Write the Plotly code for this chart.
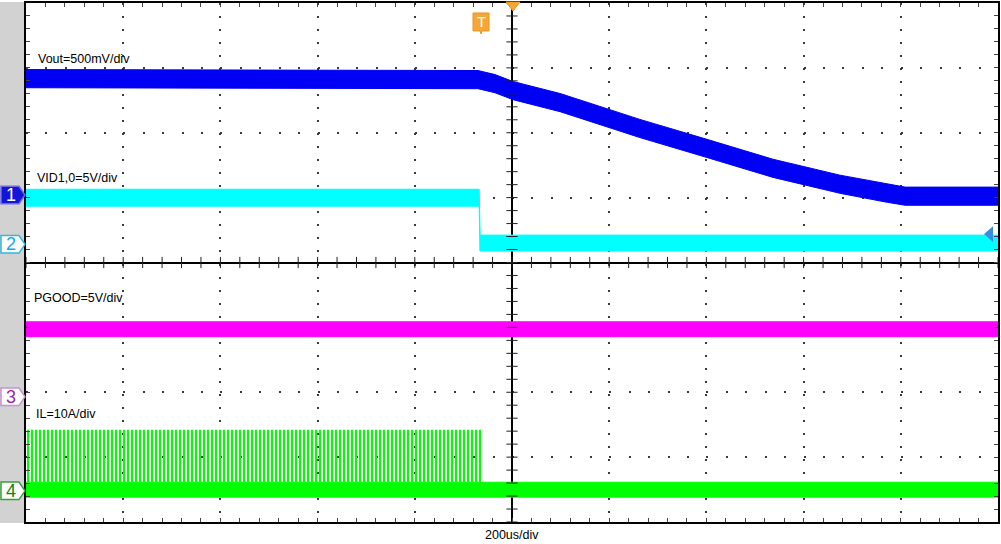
import numpy as np
import plotly.graph_objects as go

# ---------------- data (time in us, amplitude in screen divisions) ----------------
vout_t = [-1000, -70, -35, 2, 99, 263, 401, 537, 675, 772, 809, 1000]
vout_c = [2.834, 2.819, 2.757, 2.650, 2.465, 2.066, 1.759, 1.452, 1.206, 1.068, 1.022, 1.022]
vout_hw = 0.14

vid_t = [-1000, -67.5, -65.5, 1000]
vid_hi = [1.129, 1.129, 0.422, 0.422]
vid_lo_t = [-1000, -67.5, -66.0, 1000]
vid_lo = [0.868, 0.868, 0.177, 0.177]

pg_t = [-1000, 1000]
pg_hi = [-0.914, -0.914]
pg_lo = [-1.144, -1.144]

il_t = [-1000, 1000]
il_hi = [-3.387, -3.387]
il_lo = [-3.617, -3.617]
il_spike_t = [-1000, -63]
il_spike_top = -2.578

labels = ["Vout=500mV/div", "VID1,0=5V/div", "PGOOD=5V/div", "IL=10A/div"]
label_px = [(36, 57), (35, 177), (32, 297), (34, 414)]
ch_names = ["1", "2", "3", "4"]
ch_levels = [1.04, 0.28, -2.07, -3.52]
ch_fill = ["#1414d8", "white", "white", "white"]
ch_line = ["#6a6ae8", "#30b8e0", "#c890d8", "#3aa03a"]
ch_text = ["white", "#12a6e6", "#9a2aa8", "#0a8a0a"]
x_label = "200us/div"

# ---------------- geometry ----------------
W, H = 1001, 544
ML, MR, MT, MB = 26, 3, 1, 22
PW, PH = W - ML - MR, H - MT - MB


def px(x):
    return (x - ML) / PW


def py(y):
    return (MT + PH - y) / PH


fig = go.Figure()


def band(t, hi, lo, color, t_lo=None):
    t_lo = t if t_lo is None else t_lo
    xs = list(t) + list(t_lo)[::-1]
    ys = list(hi) + list(lo)[::-1]
    fig.add_trace(go.Scatter(x=xs, y=ys, mode="lines", fill="toself",
                             fillcolor=color, line=dict(color=color, width=1),
                             hoverinfo="skip", showlegend=False))


# IL spikes (hatched region)
fig.add_trace(go.Scatter(
    x=[il_spike_t[0], il_spike_t[1], il_spike_t[1], il_spike_t[0]],
    y=[il_hi[0], il_hi[0], il_spike_top, il_spike_top],
    mode="lines", fill="toself", line=dict(width=0, color="rgba(0,0,0,0)"),
    fillcolor="rgba(0,0,0,0)",
    fillpattern=dict(shape="|", size=4, solidity=0.5, fgcolor="#00ff00",
                     fgopacity=1, bgcolor="rgba(0,0,0,0)"),
    hoverinfo="skip", showlegend=False))

band(il_t, il_hi, il_lo, "#00ff00")
band(pg_t, pg_hi, pg_lo, "#ff00ff")
band(vid_t, vid_hi, vid_lo, "#00ffff", t_lo=vid_lo_t)
vc = np.array(vout_c)
band(vout_t, vc + vout_hw, vc - vout_hw, "#0000f5")

# crosshair ticks
minor_y = np.arange(-4, 4.001, 0.2)
minor_x = np.arange(-1000, 1000.1, 40)
fig.add_trace(go.Scatter(x=np.zeros_like(minor_y), y=minor_y, mode="markers",
                         marker=dict(symbol="line-ew", size=8,
                                     line=dict(width=1, color="#222")),
                         hoverinfo="skip", showlegend=False))
fig.add_trace(go.Scatter(x=minor_x, y=np.zeros_like(minor_x), mode="markers",
                         marker=dict(symbol="line-ns", size=8,
                                     line=dict(width=1, color="#222")),
                         hoverinfo="skip", showlegend=False))

shapes = []
annotations = []

# gray left strip
shapes.append(dict(type="rect", xref="paper", yref="paper", x0=px(0), x1=px(ML),
                   y0=py(523), y1=py(0), fillcolor="#d2d2d2", line=dict(width=0),
                   layer="below"))

# channel markers
h = 0.135
x0, x1, x2 = px(1), px(19), px(25)
for name, lvl, fc, lc, tc in zip(ch_names, ch_levels, ch_fill, ch_line, ch_text):
    path = (f"M {x0},{lvl + h} L {x1},{lvl + h} L {x2},{lvl} "
            f"L {x1},{lvl - h} L {x0},{lvl - h} Z")
    shapes.append(dict(type="path", xref="paper", yref="y", path=path,
                       fillcolor=fc, line=dict(color=lc, width=1.5), layer="above"))
    annotations.append(dict(x=px(10.5), y=lvl, xref="paper", yref="y", text=name,
                            showarrow=False, xanchor="center", yanchor="middle",
                            font=dict(family="Liberation Sans", size=18, color=tc)))

# trigger marker "T"
tpath = (f"M {px(473)},{py(11)} L {px(489)},{py(11)} L {px(489)},{py(29)} "
         f"L {px(482)},{py(29)} L {px(481)},{py(32)} L {px(480)},{py(29)} "
         f"L {px(473)},{py(29)} Z")
shapes.append(dict(type="path", xref="paper", yref="paper", path=tpath,
                   fillcolor="#f6a636", line=dict(color="#e89420", width=1),
                   layer="above"))
annotations.append(dict(x=px(481), y=py(20), xref="paper", yref="paper", text="T",
                        showarrow=False, xanchor="center", yanchor="middle",
                        font=dict(family="Liberation Sans", size=15, color="white")))
# top trigger-position triangle
shapes.append(dict(type="path", xref="paper", yref="paper",
                   path=f"M {px(506)},{py(0)} L {px(520)},{py(0)} L {px(513)},{py(9)} Z",
                   fillcolor="#f6a636", line=dict(color="#e89420", width=1),
                   layer="above"))
# right-side trigger level arrow
shapes.append(dict(type="path", xref="paper", yref="paper",
                   path=f"M {px(984)},{py(233)} L {px(993)},{py(225)} L {px(993)},{py(241)} Z",
                   fillcolor="#3c8ce0", line=dict(width=0), layer="above"))

# text labels
for txt, (lx, ly) in zip(labels, label_px):
    annotations.append(dict(x=px(lx), y=py(ly), xref="paper", yref="paper", text=txt,
                            showarrow=False, xanchor="left", yanchor="middle",
                            font=dict(family="Liberation Sans", size=12.5, color="black")))
annotations.append(dict(x=px(512), y=py(535), xref="paper", yref="paper", text=x_label,
                        showarrow=False, xanchor="center", yanchor="middle",
                        font=dict(family="Liberation Sans", size=12.5, color="black")))

axis_common = dict(showticklabels=False, showline=True, linecolor="black", linewidth=2,
                   mirror="allticks", ticks="inside", ticklen=4, tickcolor="#444",
                   tickwidth=1, layer="above traces", zeroline=True,
                   zerolinecolor="black", zerolinewidth=2, gridcolor="#3a3a3a",
                   gridwidth=2, fixedrange=True)

fig.update_layout(
    width=W, height=H,
    margin=dict(l=ML, r=MR, t=MT, b=MB, pad=0),
    paper_bgcolor="white", plot_bgcolor="white",
    showlegend=False,
    xaxis=dict(range=[-1000, 1000], dtick=200, tick0=0, griddash="2px,11.025px",
               minor=dict(dtick=40, ticks="inside", ticklen=4, tickcolor="#444",
                          showgrid=False),
               **axis_common),
    yaxis=dict(range=[-4, 4], dtick=1, tick0=0, griddash="2px,17.44px",
               minor=dict(dtick=0.2, ticks="inside", ticklen=4, tickcolor="#444",
                          showgrid=False),
               **axis_common),
    shapes=shapes,
    annotations=annotations,
)

fig.write_html("out.html", config={"displayModeBar": False},
               post_script="document.body.style.margin='0';document.body.style.overflow='hidden';")
